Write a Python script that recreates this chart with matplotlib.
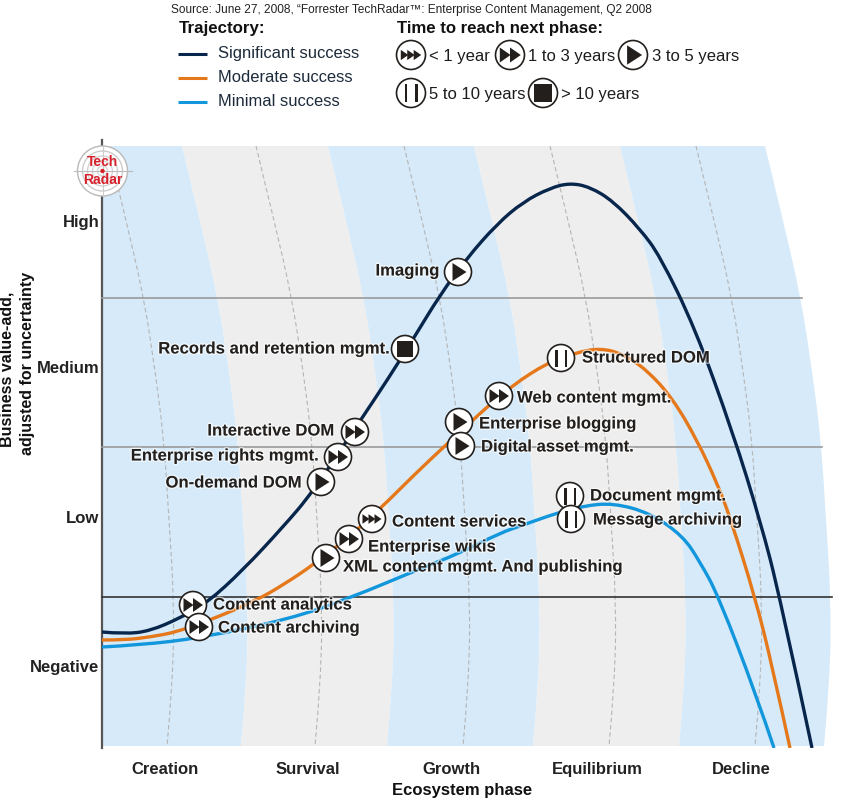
import numpy as np
import matplotlib
matplotlib.use("Agg")
import matplotlib.pyplot as plt
from matplotlib.path import Path
from matplotlib.patches import PathPatch, Circle, Polygon, Rectangle
import matplotlib.patheffects as pe

plt.rcParams['font.family'] = ['Liberation Sans', 'DejaVu Sans']

# ---- data (in image-pixel scale) ----
navy_x = [102,125,150,180,207,243,283,312,360,388,415,440,467,497,523,550,570,590,613,640,660,695,733,760,780,812]
navy_y = [632,634,631,618,603,570,527,493,421,379,336,295,258,224,202,188,183,187,201,229,256,328,433,520,597,748]
orange_x = [102,125,150,177,213,257,283,313,349,382,415,448,487,513,547,575,600,623,647,673,697,717,730,755,772,790]
orange_y = [640,640,637,632,619,600,585,565,537,507,474,443,407,385,363,353,348,354,370,399,440,483,517,597,665,748]
blue_x = [102,140,200,290,350,417,460,500,523,557,583,613,650,683,700,718,757,774]
blue_y = [647,645,638,619,598,570,553,533,525,513,506,503,513,536,562,595,697,748]

names = ["Imaging","Records and retention mgmt.","Structured DOM","Web content mgmt.","Enterprise blogging",
         "Digital asset mgmt.","Interactive DOM","Enterprise rights mgmt.","On-demand DOM","Content services",
         "Enterprise wikis","XML content mgmt. And publishing","Document mgmt.","Message archiving",
         "Content analytics","Content archiving"]
item_x = [458,405,561,499,459,461,355,338,321,372,349,326,570,571,193,199]
item_y = [272,349,358,396,422,446,432,457,482,519,539,558,496,519,605,627]
item_time = ["3-5",">10","5-10","1-3","3-5","3-5","1-3","1-3","3-5","<1","1-3","3-5","5-10","5-10","1-3","1-3"]
label_x = [439,389,582,517,479,481,334,318,301,392,368,343,590,593,213,218]
label_y = [271,349,358,398,424,447,431,456,483,522,547,567,496,520,605,628]
label_ha = ["right","right","left","left","left","left","right","right","right","left","left","left","left","left","left","left"]

phase_names = ["Creation","Survival","Growth","Equilibrium","Decline"]
phase_pos = [165,308,451,597,741]
value_names = ["High","Medium","Low","Negative"]
value_pos = [221,367,517,666]
level_y = [298,447,597]
level_end = [802,822,832]

edge_y = [146,220,298,370,440,520,600,680,746]
edge_off = [0,18,36,47,56,61,66,65,59]
band_tops = [182,328,474,620,765]
dash_tops = [108,256,404,550,696]

traj_names = ["Significant success","Moderate success","Minimal success"]
traj_colors = ["#08264c","#e5781a","#1296dc"]

# ---- figure ----
W, H = 850, 800
fig = plt.figure(figsize=(8.5, 8), dpi=100, facecolor="white")
x0, x1, y0, y1 = 102, 840, 140, 748
ax = fig.add_axes([x0/W, 1-y1/H, (x1-x0)/W, (y1-y0)/H])
ax.set_xlim(x0, x1); ax.set_ylim(y1, y0)
ax.patch.set_visible(False)
for s in ["top","right","bottom"]:
    ax.spines[s].set_visible(False)
ax.spines["left"].set_color("#555555"); ax.spines["left"].set_linewidth(1.6)
ax.set_xticks(phase_pos); ax.set_xticklabels(phase_names, fontweight="bold", fontsize=12, color="#222222")
ax.set_yticks(value_pos); ax.set_yticklabels(value_names, fontweight="bold", fontsize=12, color="#222222")
ax.tick_params(axis="both", length=0)
ax.tick_params(axis="x", pad=10)
ax.tick_params(axis="y", pad=2)

lax = fig.add_axes([0, 0, 1, 1])
lax.set_xlim(0, W); lax.set_ylim(H, 0); lax.axis("off"); lax.patch.set_visible(False)

def smooth(xs, ys):
    pts = np.column_stack([xs, ys])
    v = [pts[0]]; c = [Path.MOVETO]
    for i in range(1, len(pts)-1):
        end = pts[i+1] if i == len(pts)-2 else (pts[i]+pts[i+1])/2
        v += [pts[i], end]; c += [Path.CURVE3, Path.CURVE3]
    return v, c

# bands
edges = [[t+o for o in edge_off] for t in band_tops]
prev = [x0+1]*len(edge_y)
for i, e in enumerate(edges):
    col = "#d6eaf9" if i % 2 == 0 else "#eeeeee"
    v1, c1 = smooth(prev, edge_y)
    v2, c2 = smooth(e[::-1], edge_y[::-1])
    c2 = [Path.LINETO] + c2[1:]
    ax.add_patch(PathPatch(Path(v1+v2+[v1[0]], c1+c2+[Path.CLOSEPOLY]), fc=col, ec="none", zorder=1))
    prev = e

# dashed guides
for t in dash_tops:
    v, c = smooth([t+o for o in edge_off], edge_y)
    ax.add_patch(PathPatch(Path(v, c), fc="none", ec="#b5b5b5", lw=0.8, ls=(0, (4, 2.5)), zorder=2))

# level lines
for k, (yy, xe) in enumerate(zip(level_y, level_end)):
    ax.plot([x0, xe], [yy, yy], color="#9a9a9a" if k < 2 else "#333333", lw=1.2, zorder=3, clip_on=False)

# trajectories
for xs, ys, col in [(navy_x,navy_y,traj_colors[0]),(orange_x,orange_y,traj_colors[1]),(blue_x,blue_y,traj_colors[2])]:
    v, c = smooth(xs, ys)
    ax.add_patch(PathPatch(Path(v, c), fc="none", ec=col, lw=2.4, zorder=4, capstyle="butt"))

DARK = "#231f1c"
def icon(a, cx, cy, kind, r=13.5, z=6):
    s = r/13.5
    a.add_patch(Circle((cx, cy), r, fc="white", ec=DARK, lw=1.2, zorder=z, clip_on=False))
    def tri(xl, w, h):
        a.add_patch(Polygon([(xl*s+cx, cy-h*s), ((xl+w)*s+cx, cy), (xl*s+cx, cy+h*s)],
                            fc=DARK, ec="none", zorder=z+1, clip_on=False))
    if kind == "<1":
        for dx in (-9.5, -3.5, 2.5):
            tri(dx, 7, 4.8)
    elif kind == "1-3":
        tri(-9.5, 10, 7); tri(0, 10, 7)
    elif kind == "3-5":
        tri(-5.5, 14, 9)
    elif kind == "5-10":
        for dx in (-6, 3.5):
            a.add_patch(Rectangle((cx+dx*s, cy-8.5*s), 2.6*s, 17*s, fc=DARK, ec="none", zorder=z+1, clip_on=False))
    else:
        a.add_patch(Rectangle((cx-8*s, cy-8*s), 16*s, 16*s, fc=DARK, ec="none", zorder=z+1, clip_on=False))

halo = [pe.withStroke(linewidth=2, foreground="white", alpha=0.6)]
for n, ix, iy, t, lx, ly, ha in zip(names, item_x, item_y, item_time, label_x, label_y, label_ha):
    icon(ax, ix, iy, t)
    ax.text(lx, ly, n, ha=ha, va="center", fontsize=12, fontweight="bold", color=DARK,
            path_effects=halo, zorder=8, clip_on=False)

# Tech Radar logo
lc, ly_ = 102.5, 171
for r, ec in [(25,"#b9b9b9"),(20,"#cccccc"),(15,"#d2d2d2"),(10,"#d6d6d6"),(5,"#d6d6d6")]:
    ax.add_patch(Circle((lc, ly_), r, fc="white" if r == 25 else "none", ec=ec, lw=1.0, zorder=5, clip_on=False))
ax.plot([lc-29, lc+29], [ly_, ly_], color="#bbbbbb", lw=0.8, zorder=5, clip_on=False)
ax.plot([lc, lc], [ly_-25, ly_+25], color="#cccccc", lw=0.8, zorder=5, clip_on=False)
ax.add_patch(Circle((lc, ly_), 2.2, fc="#d8202a", ec="none", zorder=6, clip_on=False))
ax.text(lc, 162, "Tech", ha="center", va="center", fontsize=10, fontweight="bold", color="#d8202a", zorder=7, clip_on=False)
ax.text(lc, 179.5, "Radar", ha="center", va="center", fontsize=10, fontweight="bold", color="#d8202a", zorder=7, clip_on=False)

# axis titles
lax.text(462, 790, "Ecosystem phase", ha="center", va="center", fontsize=12, fontweight="bold", color="#111111")
lax.text(7, 369, "Business value-add,", ha="center", va="center", rotation=90,
         fontsize=11.5, fontweight="bold", color="#111111")
lax.text(28, 363, "adjusted for uncertainty", ha="center", va="center", rotation=90,
         fontsize=11.5, fontweight="bold", color="#111111")

# header + legends
lax.text(171, 10, "Source: June 27, 2008, \u201cForrester TechRadar\u2122: Enterprise Content Management, Q2 2008",
         ha="left", va="center", fontsize=8.6, color="#222222")
lax.text(179, 28, "Trajectory:", ha="left", va="center", fontsize=12.2, fontweight="bold", color="#111111")
lax.text(397, 28, "Time to reach next phase:", ha="left", va="center", fontsize=12.1, fontweight="bold", color="#111111")
for n, col, yy, ty in zip(traj_names, traj_colors, [54, 78, 102], [53.5, 77.5, 102]):
    lax.plot([178, 207], [yy, yy], color=col, lw=2.2, solid_capstyle="butt")
    lax.text(218, ty, n, ha="left", va="center", fontsize=11.9, color="#1c2a3a")

key_kinds = ["<1","1-3","3-5","5-10",">10"]
key_labels = ["< 1 year","1 to 3 years","3 to 5 years","5 to 10 years","> 10 years"]
key_cx = [411,510,633,411,543]
key_cy = [55,55,55,93,93]
key_tx = [429,528,652,429,561]
for k, l, cx, cy, tx in zip(key_kinds, key_labels, key_cx, key_cy, key_tx):
    icon(lax, cx, cy, k, r=14.5)
    lax.text(tx, cy+1, l, ha="left", va="center", fontsize=12, color="#1c1c1c")

fig.savefig("out.png", dpi=100, facecolor="white")
